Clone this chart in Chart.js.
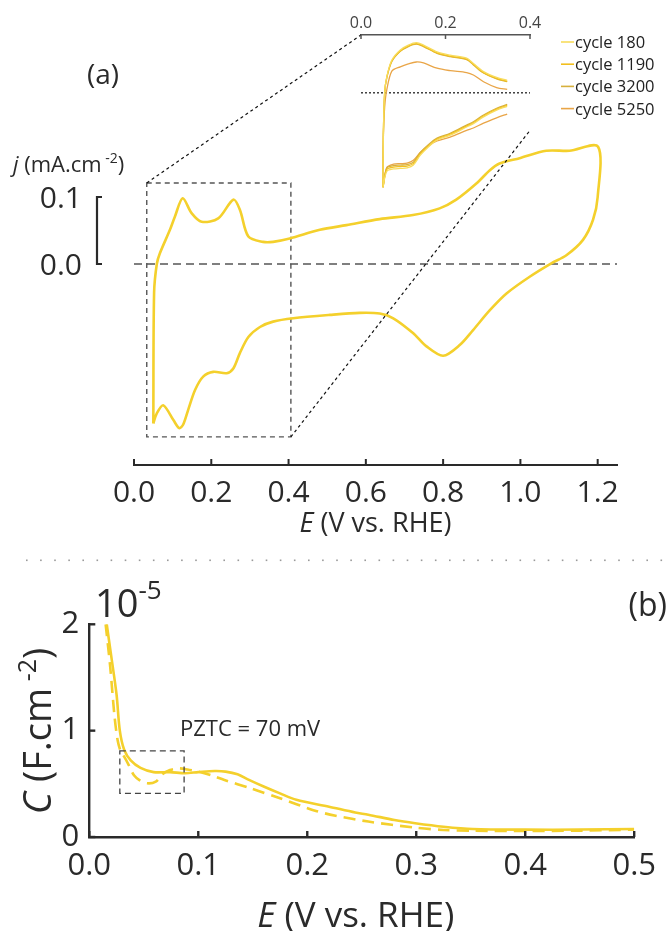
<!DOCTYPE html>
<html>
<head>
<meta charset="utf-8">
<script src="https://cdn.jsdelivr.net/npm/chart.js@4.4.1/dist/chart.umd.min.js"></script>
<style>
  html, body { margin: 0; padding: 0; background: #fff; }
  #wrap { position: relative; width: 667px; height: 931px; overflow: hidden; }
  canvas { position: absolute; left: 0; }
</style>
</head>
<body>
<div id="wrap">
  <canvas id="cvMain" width="667" height="550" style="top:0"></canvas>
  <canvas id="cvInset" width="667" height="550" style="top:0"></canvas>
  <canvas id="cvCap" width="667" height="381" style="top:550px"></canvas>
</div>
<script>
// (a) cyclic voltammogram: anodic sweep up to 1.2 V, then cathodic sweep back
const cvE = [0.050, 0.052, 0.059, 0.067, 0.093, 0.106, 0.126, 0.149, 0.175, 0.218, 0.257, 0.274, 0.296, 0.334, 0.360, 0.403,
  0.481, 0.550, 0.636, 0.722, 0.791, 0.834, 0.886, 0.921, 0.946, 0.998, 1.067, 1.127, 1.201,
  1.200, 1.188, 1.162, 1.119, 1.080, 1.024, 0.964, 0.921, 0.877, 0.843, 0.800, 0.757, 0.722, 0.671, 0.636, 0.584,
  0.507, 0.412, 0.360, 0.326, 0.296, 0.274, 0.257, 0.240, 0.205, 0.179, 0.158, 0.140, 0.127, 0.117, 0.102, 0.076, 0.059, 0.050];
const cvJ = [-0.238, -0.043, 0.000, 0.016, 0.051, 0.071, 0.098, 0.076, 0.063, 0.068, 0.096, 0.081, 0.041, 0.033, 0.033, 0.038,
  0.051, 0.058, 0.067, 0.073, 0.083, 0.096, 0.120, 0.140, 0.150, 0.158, 0.169, 0.169, 0.175,
  0.100, 0.066, 0.036, 0.013, 0.001, -0.019, -0.044, -0.069, -0.099, -0.121, -0.137, -0.123, -0.103, -0.081, -0.074, -0.073,
  -0.076, -0.081, -0.086, -0.094, -0.109, -0.133, -0.156, -0.163, -0.161, -0.168, -0.188, -0.218, -0.240, -0.245, -0.233, -0.211, -0.223, -0.238];
const topTicks = [0, 0.2, 0.4, 0.6, 0.8, 1.0, 1.2];
const scaleBar = [0.0, 0.1];
const zoomBox = [0.033, 0.406, -0.258, 0.121];   // E from, E to, j from, j to

// inset: H-UPD region for several cycles (null splits the two sweeps)
const insetE = [0.052, 0.053, 0.056, 0.061, 0.073, 0.093, 0.112, 0.131, 0.148, 0.180, 0.211, 0.250, 0.266, 0.290, 0.321, 0.346, null,
  0.346, 0.321, 0.290, 0.266, 0.250, 0.211, 0.180, 0.160, 0.140, 0.124, 0.109, 0.093, 0.077, 0.061, 0.052];
const cycleNames = ['cycle 180', 'cycle 1190', 'cycle 3200', 'cycle 5250'];
const cycle180 = [-0.196, -0.084, 0, 0.033, 0.068, 0.089, 0.099, 0.104, 0.099, 0.085, 0.078, 0.072, 0.061, 0.044, 0.032, 0.026, null,
  -0.028, -0.036, -0.050, -0.064, -0.071, -0.088, -0.098, -0.112, -0.130, -0.150, -0.156, -0.157, -0.158, -0.163, -0.196];
const cycle1190 = [-0.196, -0.084, 0, 0.032, 0.066, 0.087, 0.097, 0.102, 0.097, 0.083, 0.076, 0.070, 0.059, 0.042, 0.030, 0.024, null,
  -0.026, -0.034, -0.048, -0.062, -0.069, -0.086, -0.096, -0.110, -0.127, -0.147, -0.152, -0.153, -0.154, -0.159, -0.196];
const cycle3200 = [-0.196, -0.084, 0, 0.031, 0.065, 0.086, 0.096, 0.101, 0.096, 0.082, 0.075, 0.069, 0.058, 0.041, 0.029, 0.023, null,
  -0.024, -0.032, -0.046, -0.060, -0.067, -0.084, -0.094, -0.107, -0.124, -0.144, -0.149, -0.150, -0.151, -0.156, -0.196];
const cycle5250 = [-0.196, -0.090, -0.030, 0.006, 0.045, 0.054, 0.060, 0.064, 0.062, 0.051, 0.046, 0.042, 0.037, 0.023, 0.011, 0.007, null,
  -0.044, -0.052, -0.063, -0.073, -0.078, -0.092, -0.100, -0.110, -0.124, -0.140, -0.146, -0.147, -0.148, -0.155, -0.196];
const insetTicks = [0, 0.2, 0.4];
const insetLink = [0.4, -0.078];   // where the lower guide line meets the inset

// (b) capacitance vs potential
const capE = [0.016, 0.020, 0.025, 0.028, 0.032, 0.038, 0.047, 0.059, 0.074, 0.088, 0.100, 0.115, 0.125, 0.136,
  0.146, 0.160, 0.175, 0.190, 0.220, 0.244, 0.256, 0.280, 0.299, 0.325, 0.352, 0.400, 0.450, 0.500];
const capSolid = [2.00, 1.71, 1.34, 1.00, 0.82, 0.72, 0.65, 0.61, 0.61, 0.60, 0.61, 0.62, 0.615, 0.59,
  0.54, 0.475, 0.41, 0.35, 0.285, 0.23, 0.21, 0.16, 0.13, 0.097, 0.075, 0.069, 0.070, 0.075];
const capDashE = [0.015, 0.019, 0.023, 0.026, 0.029, 0.032, 0.037, 0.041, 0.046, 0.053, 0.061, 0.067, 0.074, 0.082,
  0.090, 0.100, 0.112, 0.124, 0.148, 0.175, 0.208, 0.226, 0.256, 0.299, 0.325, 0.352, 0.400, 0.450, 0.500];
const capDashed = [2.00, 1.62, 1.15, 0.91, 0.80, 0.755, 0.66, 0.58, 0.535, 0.505, 0.52, 0.59, 0.63, 0.645,
  0.635, 0.615, 0.58, 0.536, 0.458, 0.364, 0.245, 0.20, 0.145, 0.088, 0.066, 0.059, 0.056, 0.060, 0.070];
const capXTicks = [0, 0.1, 0.2, 0.3, 0.4, 0.5];
const capYTicks = [0, 1, 2];
const pztcBox = [0.028, 0.087, 0.41, 0.81];

const FONT = "'Open Sans', 'Noto Sans', sans-serif";
const INK = '#2a2a2a';
const YELLOW = '#f4d02c';
Chart.defaults.font.family = FONT;
Chart.defaults.color = INK;

const pts = (xs, ys) => xs.map((x, i) => ({ x: x, y: ys[i] }));

// text runs with italics / superscripts
function richText(ctx, x, y, parts, align) {
  let w = 0;
  parts.forEach(p => { ctx.font = p[1]; w += ctx.measureText(p[0]).width; });
  let cx = align === 'center' ? x - w / 2 : align === 'right' ? x - w : x;
  ctx.textAlign = 'left';
  ctx.textBaseline = 'alphabetic';
  parts.forEach(p => {
    ctx.font = p[1];
    ctx.fillText(p[0], cx, y - (p[2] || 0));
    cx += ctx.measureText(p[0]).width;
  });
}

function dashLine(ctx, x1, y1, x2, y2, dash, color, width) {
  ctx.save();
  ctx.setLineDash(dash);
  ctx.strokeStyle = color;
  ctx.lineWidth = width;
  ctx.beginPath();
  ctx.moveTo(x1, y1);
  ctx.lineTo(x2, y2);
  ctx.stroke();
  ctx.restore();
}

const fixTicks = list => scale => { scale.ticks = list.map(v => ({ value: v })); };

// ---------- (a) main CV ----------
const mainDecor = {
  id: 'mainDecor',
  beforeDatasetsDraw(chart) {
    const ctx = chart.ctx, x = chart.scales.x, y = chart.scales.y;
    const y0 = y.getPixelForValue(0);
    dashLine(ctx, x.getPixelForValue(0), y0, x.getPixelForValue(1.25), y0, [8, 5], '#555', 1.5);
    // framed H-UPD region
    const bx1 = x.getPixelForValue(zoomBox[0]), bx2 = x.getPixelForValue(zoomBox[1]);
    const by1 = y.getPixelForValue(zoomBox[3]), by2 = y.getPixelForValue(zoomBox[2]);
    ctx.save();
    ctx.setLineDash([5, 4]);
    ctx.strokeStyle = '#555';
    ctx.lineWidth = 1.4;
    ctx.strokeRect(bx1, by1, bx2 - bx1, by2 - by1);
    ctx.restore();
  },
  afterDraw(chart) {
    const ctx = chart.ctx, x = chart.scales.x, y = chart.scales.y, a = chart.chartArea;
    ctx.save();
    ctx.strokeStyle = INK;
    ctx.lineWidth = 2;
    topTicks.forEach(v => {
      const px = x.getPixelForValue(v);
      ctx.beginPath(); ctx.moveTo(px, a.bottom); ctx.lineTo(px, a.bottom - 6); ctx.stroke();
    });
    // current scale bar
    const sx = a.left - 37;
    const t0 = y.getPixelForValue(scaleBar[0]), t1 = y.getPixelForValue(scaleBar[1]);
    ctx.lineWidth = 2.2;
    ctx.beginPath();
    ctx.moveTo(sx + 5, t1); ctx.lineTo(sx, t1); ctx.lineTo(sx, t0); ctx.lineTo(sx + 5, t0);
    ctx.stroke();
    ctx.fillStyle = INK;
    scaleBar.forEach(v => {
      richText(ctx, a.left - 52, y.getPixelForValue(v) + 11, [[v.toFixed(1), '30px ' + FONT]], 'right');
    });
    richText(ctx, 13, 172, [['j', 'italic 22px ' + FONT], [' (mA.cm', '22px ' + FONT], [' -2', '14px ' + FONT, 9], [')', '22px ' + FONT]], 'left');
    richText(ctx, 103, 84, [['(a)', '28px ' + FONT]], 'center');
    richText(ctx, (a.left + a.right) / 2, 532, [['E', 'italic 27px ' + FONT], [' (V vs. RHE)', '27px ' + FONT]], 'center');
    ctx.restore();
  }
};

const mainChart = new Chart(document.getElementById('cvMain'), {
  type: 'scatter',
  data: {
    datasets: [{
      data: pts(cvE, cvJ),
      showLine: true,
      borderColor: YELLOW,
      borderWidth: 2.6,
      pointRadius: 0,
      tension: 0.3
    }]
  },
  options: {
    responsive: false,
    animation: false,
    layout: { padding: { left: 134, right: 50, top: 130, bottom: 0 } },
    plugins: { legend: { display: false }, tooltip: { enabled: false } },
    scales: {
      x: {
        type: 'linear', min: 0, max: 1.25,
        afterBuildTicks: fixTicks(topTicks),
        afterFit: s => { s.height = 85; },
        grid: { display: false, drawTicks: false },
        border: { display: true, color: INK, width: 2 },
        ticks: { padding: 10, color: INK, font: { size: 30 }, callback: v => v.toFixed(1) }
      },
      y: { min: -0.3, max: 0.2, display: false }
    }
  },
  plugins: [mainDecor]
});

// ---------- (a) inset ----------
const cycleColors = ['#f8dc5c', '#f2bf1e', '#d6b03c', '#e9a547'];
const cycleData = [cycle180, cycle1190, cycle3200, cycle5250];

const insetDecor = {
  id: 'insetDecor',
  beforeDatasetsDraw(chart) {
    const ctx = chart.ctx, x = chart.scales.x, y = chart.scales.y;
    const y0 = y.getPixelForValue(0);
    dashLine(ctx, x.getPixelForValue(0), y0, x.getPixelForValue(0.4), y0, [2, 2], '#111', 1.2);
  },
  afterDraw(chart) {
    const ctx = chart.ctx, x = chart.scales.x, y = chart.scales.y, a = chart.chartArea;
    const mx = mainChart.scales.x, my = mainChart.scales.y;
    // guide lines from the framed region to the inset
    dashLine(ctx, mx.getPixelForValue(zoomBox[0]), my.getPixelForValue(zoomBox[3]),
      x.getPixelForValue(0), a.top, [3, 3], '#111', 1.2);
    dashLine(ctx, mx.getPixelForValue(zoomBox[1]), my.getPixelForValue(zoomBox[2]),
      x.getPixelForValue(insetLink[0]), y.getPixelForValue(insetLink[1]), [3, 3], '#111', 1.2);
    ctx.save();
    ctx.strokeStyle = '#555';
    ctx.lineWidth = 1.5;
    insetTicks.forEach(v => {
      const px = x.getPixelForValue(v);
      ctx.beginPath(); ctx.moveTo(px, a.top); ctx.lineTo(px, a.top + 4); ctx.stroke();
    });
    // legend
    chart.data.datasets.forEach((ds, i) => {
      const ly = 42 + i * 22.2;
      ctx.strokeStyle = ds.borderColor;
      ctx.lineWidth = 1.6;
      ctx.beginPath(); ctx.moveTo(561, ly); ctx.lineTo(574, ly); ctx.stroke();
      ctx.fillStyle = '#222';
      richText(ctx, 575, ly + 6, [[ds.label, '16.5px ' + FONT]], 'left');
    });
    ctx.restore();
  }
};

new Chart(document.getElementById('cvInset'), {
  type: 'scatter',
  data: {
    datasets: cycleNames.map((name, i) => ({
      label: name,
      data: pts(insetE, cycleData[i]),
      showLine: true,
      spanGaps: false,
      borderColor: cycleColors[i],
      borderWidth: 1.3,
      pointRadius: 0,
      tension: 0.3
    }))
  },
  options: {
    responsive: false,
    animation: false,
    layout: { padding: { left: 361, right: 137, top: 0, bottom: 356 } },
    plugins: { legend: { display: false }, tooltip: { enabled: false } },
    scales: {
      x: {
        type: 'linear', position: 'top', min: 0, max: 0.4,
        afterBuildTicks: fixTicks(insetTicks),
        afterFit: s => { s.height = 35; },
        grid: { display: false, drawTicks: false },
        border: { display: true, color: '#555', width: 1.5 },
        ticks: { padding: 2, color: '#444', font: { size: 16 }, callback: v => v.toFixed(1) }
      },
      y: { min: -0.21, max: 0.12, display: false }
    }
  },
  plugins: [insetDecor]
});

// ---------- (b) capacitance ----------
const capDecor = {
  id: 'capDecor',
  afterDraw(chart) {
    const ctx = chart.ctx, x = chart.scales.x, y = chart.scales.y, a = chart.chartArea;
    ctx.save();
    // panel separator
    ctx.fillStyle = '#9a9a9a';
    for (let px = 26; px < 667; px += 14.1) ctx.fillRect(px, 9.5, 1.6, 1.6);
    ctx.strokeStyle = INK;
    ctx.lineWidth = 2.4;
    capXTicks.forEach(v => {
      const px = x.getPixelForValue(v);
      ctx.beginPath(); ctx.moveTo(px, a.bottom); ctx.lineTo(px, a.bottom - 6); ctx.stroke();
    });
    capYTicks.forEach(v => {
      const py = y.getPixelForValue(v);
      ctx.beginPath(); ctx.moveTo(a.left, py); ctx.lineTo(a.left + 6, py); ctx.stroke();
    });
    // PZTC frame
    const bx1 = x.getPixelForValue(pztcBox[0]), bx2 = x.getPixelForValue(pztcBox[1]);
    const by1 = y.getPixelForValue(pztcBox[3]), by2 = y.getPixelForValue(pztcBox[2]);
    ctx.setLineDash([6, 4]);
    ctx.strokeStyle = '#444';
    ctx.lineWidth = 1.3;
    ctx.strokeRect(bx1, by1, bx2 - bx1, by2 - by1);
    ctx.setLineDash([]);
    ctx.fillStyle = INK;
    richText(ctx, 180, 185.5, [['PZTC = 70 mV', '22px ' + FONT]], 'left');
    richText(ctx, 95, 67, [['10', '38px ' + FONT], ['-5', '26px ' + FONT, 18]], 'left');
    richText(ctx, 667, 66, [['(b)', '32px ' + FONT]], 'right');
    richText(ctx, (a.left + a.right) / 2 - 6, 376.5, [['E', 'italic 35px ' + FONT], [' (V vs. RHE)', '35px ' + FONT]], 'center');
    ctx.translate(51, 181);
    ctx.rotate(-Math.PI / 2);
    richText(ctx, 0, 0, [['C', 'italic 38px ' + FONT], [' (F.cm', '38px ' + FONT], [' -2', '25px ' + FONT, 15], [')', '38px ' + FONT]], 'center');
    ctx.restore();
  }
};

new Chart(document.getElementById('cvCap'), {
  type: 'scatter',
  data: {
    datasets: [
      { data: pts(capE, capSolid), showLine: true, borderColor: YELLOW, borderWidth: 2.6, pointRadius: 0, tension: 0.3 },
      { data: pts(capDashE, capDashed), showLine: true, borderColor: YELLOW, borderWidth: 2.6, borderDash: [12, 7], pointRadius: 0, tension: 0.3 }
    ]
  },
  options: {
    responsive: false,
    animation: false,
    layout: { padding: { left: 0, right: 22.7, top: 74.3, bottom: 0 } },
    plugins: { legend: { display: false }, tooltip: { enabled: false } },
    scales: {
      x: {
        type: 'linear', min: 0, max: 0.5,
        afterBuildTicks: fixTicks(capXTicks),
        afterFit: s => { s.height = 94; },
        grid: { display: false, drawTicks: false },
        border: { display: true, color: INK, width: 2.4 },
        ticks: { padding: 11, color: INK, font: { size: 31 }, callback: v => v.toFixed(1) }
      },
      y: {
        type: 'linear', min: 0, max: 2,
        afterBuildTicks: fixTicks(capYTicks),
        afterFit: s => { s.width = 89.3; },
        grid: { display: false, drawTicks: false },
        border: { display: true, color: INK, width: 2.4 },
        ticks: { padding: 10, color: INK, font: { size: 31 }, callback: v => String(v) }
      }
    }
  },
  plugins: [capDecor]
});
</script>
</body>
</html>
